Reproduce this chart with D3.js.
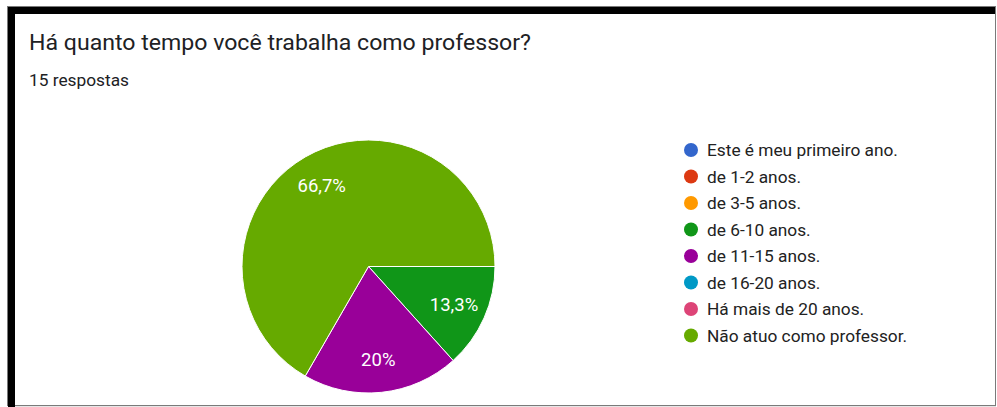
<!DOCTYPE html>
<html>
<head>
<meta charset="utf-8">
<script src="https://cdn.jsdelivr.net/npm/d3@7"></script>
<style>
  html, body { margin: 0; padding: 0; background: #fff; }
  svg { display: block; }
</style>
</head>
<body>
<svg id="chart" width="997" height="407"></svg>
<script>
// Answers to the survey question, one entry per option
const categories = [
  "Este é meu primeiro ano.",
  "de 1-2 anos.",
  "de 3-5 anos.",
  "de 6-10 anos.",
  "de 11-15 anos.",
  "de 16-20 anos.",
  "Há mais de 20 anos.",
  "Não atuo como professor."
];
const counts = [0, 0, 0, 2, 3, 0, 0, 10];
const colors = ["#3366cc", "#dc3912", "#ff9900", "#109618", "#990099", "#0099c6", "#dd4477", "#66aa00"];
const title = "Há quanto tempo você trabalha como professor?";
const subtitle = "15 respostas";

const svg = d3.select("#chart");

// Card frame
svg.append("rect").attr("x", 7.5).attr("y", 6.5).attr("width", 988).attr("height", 399)
  .attr("fill", "#fff").attr("stroke", "#7a7a7a").attr("stroke-width", 1);
svg.append("line").attr("x1", 15).attr("x2", 996).attr("y1", 406.5).attr("y2", 406.5)
  .attr("stroke", "#e6e6e6");
svg.append("rect").attr("x", 8).attr("y", 7).attr("width", 987).attr("height", 7).attr("fill", "#000");
svg.append("rect").attr("x", 8).attr("y", 7).attr("width", 7).attr("height", 400).attr("fill", "#000");

// Header
svg.append("text").attr("x", 29).attr("y", 50)
  .attr("font-family", "Roboto, sans-serif").attr("font-size", 21.5).attr("fill", "#202124")
  .attr("textLength", 502).attr("lengthAdjust", "spacingAndGlyphs")
  .text(title);
svg.append("text").attr("x", 29).attr("y", 86)
  .attr("font-family", "Roboto, sans-serif").attr("font-size", 16).attr("fill", "#202124")
  .attr("textLength", 100).attr("lengthAdjust", "spacingAndGlyphs")
  .text(subtitle);

// Pie
const cx = 368.5, cy = 266.5, radius = 126.5;
const total = d3.sum(counts);
const data = categories.map((c, i) => ({ name: c, value: counts[i], color: colors[i] }));

const pie = d3.pie().value(d => d.value).sort(null)
  .startAngle(Math.PI / 2).endAngle(Math.PI / 2 + 2 * Math.PI);
const arcs = pie(data).filter(a => a.data.value > 0);
const arc = d3.arc().innerRadius(0).outerRadius(radius);
const labelArc = d3.arc().innerRadius(radius * 0.74).outerRadius(radius * 0.74);

const g = svg.append("g").attr("transform", `translate(${cx},${cy})`);
g.selectAll("path.slice").data(arcs).join("path")
  .attr("class", "slice")
  .attr("d", arc)
  .attr("fill", d => d.data.color)
  .attr("stroke", "#fff").attr("stroke-width", 1);

const fmt = v => {
  const p = Math.round(v / total * 1000) / 10;
  return (Number.isInteger(p) ? String(p) : p.toFixed(1).replace(".", ",")) + "%";
};
g.selectAll("text.pct").data(arcs).join("text")
  .attr("class", "pct")
  .attr("transform", d => `translate(${labelArc.centroid(d)})`)
  .attr("text-anchor", "middle").attr("dy", "0.36em")
  .attr("font-family", "Roboto, Arial, sans-serif").attr("font-size", 18.5)
  .attr("fill", "#fff")
  .text(d => fmt(d.data.value));

// Legend
const legend = svg.append("g").attr("transform", "translate(691,150)");
const rows = legend.selectAll("g").data(data).join("g")
  .attr("transform", (d, i) => `translate(0,${i * 26.5})`);
rows.append("circle").attr("r", 7).attr("fill", d => d.color);
rows.append("text").attr("x", 16).attr("dy", "0.36em")
  .attr("font-family", "Roboto, sans-serif").attr("font-size", 17.3).attr("fill", "#222")
  .text(d => d.name);
</script>
</body>
</html>
